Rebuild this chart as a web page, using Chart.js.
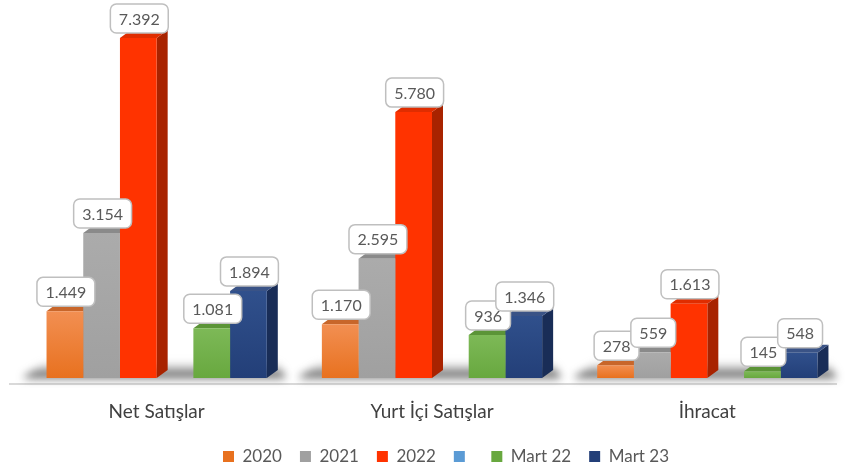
<!DOCTYPE html>
<html>
<head>
<meta charset="utf-8">
<script src="https://cdn.jsdelivr.net/npm/chart.js@4/dist/chart.umd.min.js"></script>
<style>
  html, body { margin: 0; padding: 0; background: #fff; }
  #wrap { width: 847px; height: 475px; }
</style>
</head>
<body>
<div id="wrap"><canvas id="c"></canvas></div>
<script>
// data
const categories = ["Net Satışlar", "Yurt İçi Satışlar", "İhracat"];
const seriesNames = ["2020", "2021", "2022", "", "Mart 22", "Mart 23"];
const v2020 = [1449, 1170, 278];
const v2021 = [3154, 2595, 559];
const v2022 = [7392, 5780, 1613];
const vBlank = [null, null, null];
const vMart22 = [1081, 936, 145];
const vMart23 = [1894, 1346, 548];
const allValues = [v2020, v2021, v2022, vBlank, vMart22, vMart23];

// colours: front (light top / dark bottom), top face, side face
const frontLight = ["#F28F52", "#ABABAB", "#FF3300", "#5B9BD5", "#7DB957", "#30508C"];
const frontDark = ["#E8711F", "#A0A0A0", "#FF3300", "#5B9BD5", "#68A83F", "#233F78"];
const topColors = ["#C8662A", "#8A8A8A", "#E02D00", "#4A86BE", "#5B9437", "#3A5386"];
const sideColors = ["#B35A20", "#7C7C7C", "#A82300", "#3E72A3", "#4C7C2D", "#192D57"];

const DX = 11, DY = -8;
const BASE_Y = 378;
const LEGEND_SHIFT = 14;

function fmt(v) {
  return String(v).replace(/\B(?=(\d{3})+(?!\d))/g, ".");
}

function frontFill(i) {
  return function (ctx) {
    const ch = ctx.chart;
    if (ctx.type !== "data" || !ch.chartArea || ctx.raw == null) return frontDark[i];
    const ys = ch.scales.y;
    const top = ys.getPixelForValue(ctx.raw);
    const bot = ys.getPixelForValue(0);
    if (!isFinite(top) || !isFinite(bot) || top === bot) return frontDark[i];
    const g = ch.ctx.createLinearGradient(0, top, 0, bot);
    g.addColorStop(0, frontLight[i]);
    g.addColorStop(1, frontDark[i]);
    return g;
  };
}

// 3d faces, floor shadow and axis line, drawn behind the bar fronts
const depthPlugin = {
  id: "depth",
  afterLayout(chart) {
    // legend sits a little right of centre
    chart.legend.left += LEGEND_SHIFT;
    chart.legend.right += LEGEND_SHIFT;
  },
  beforeDatasetsDraw(chart) {
    const c = chart.ctx;
    const base = chart.scales.y.getPixelForValue(0);
    const first = chart.getDatasetMeta(0).data;
    const last = chart.getDatasetMeta(5).data;

    // axis line
    c.save();
    c.strokeStyle = "#D9D9D9";
    c.lineWidth = 2;
    c.beginPath();
    c.moveTo(9, base + 6);
    c.lineTo(837, base + 6);
    c.stroke();
    c.restore();

    // floor shadow under each group
    categories.forEach((cat, j) => {
      const L = first[j].x - first[j].width / 2;
      const R = last[j].x + last[j].width / 2 + DX;
      c.save();
      c.filter = "blur(4px)";
      const g = c.createLinearGradient(0, base - 15, 0, base);
      g.addColorStop(0, "rgba(150,150,150,0.1)");
      g.addColorStop(1, "rgba(40,40,40,0.95)");
      c.fillStyle = g;
      c.beginPath();
      c.moveTo(L - 24, base);
      c.lineTo(L - 2, base - 15);
      c.lineTo(R, base - 15);
      c.lineTo(R + 8, base);
      c.closePath();
      c.fill();
      c.restore();
    });

    // side faces
    chart.data.datasets.forEach((ds, i) => {
      chart.getDatasetMeta(i).data.forEach((bar, j) => {
        if (ds.data[j] == null) return;
        const xr = bar.x + bar.width / 2;
        c.fillStyle = sideColors[i];
        c.beginPath();
        c.moveTo(xr, bar.y);
        c.lineTo(xr + DX, bar.y + DY);
        c.lineTo(xr + DX, bar.base + DY);
        c.lineTo(xr, bar.base);
        c.closePath();
        c.fill();
      });
    });
    // top faces
    chart.data.datasets.forEach((ds, i) => {
      chart.getDatasetMeta(i).data.forEach((bar, j) => {
        if (ds.data[j] == null) return;
        const xl = bar.x - bar.width / 2;
        const xr = bar.x + bar.width / 2;
        c.fillStyle = topColors[i];
        c.beginPath();
        c.moveTo(xl, bar.y);
        c.lineTo(xl + DX, bar.y + DY);
        c.lineTo(xr + DX, bar.y + DY);
        c.lineTo(xr, bar.y);
        c.closePath();
        c.fill();
      });
    });
  },
  // value boxes
  afterDatasetsDraw(chart) {
    const c = chart.ctx;
    c.save();
    c.font = "16px Lato";
    c.textAlign = "center";
    c.textBaseline = "middle";
    chart.data.datasets.forEach((ds, i) => {
      chart.getDatasetMeta(i).data.forEach((bar, j) => {
        const v = ds.data[j];
        if (v == null) return;
        const t = fmt(v);
        const w = c.measureText(t).width + 17;
        const h = 29;
        const x = bar.x + 1 - w / 2;
        const y = bar.y - 5 - h;
        c.beginPath();
        c.roundRect(x, y, w, h, 6);
        c.fillStyle = "#FFFFFF";
        c.fill();
        c.strokeStyle = "#BFBFBF";
        c.lineWidth = 1.5;
        c.stroke();
        c.fillStyle = "#595959";
        c.fillText(t, bar.x + 1, y + h / 2 + 1);
      });
    });
    c.restore();
  }
};

const datasets = allValues.map((vals, i) => ({
  label: seriesNames[i],
  data: vals,
  backgroundColor: frontFill(i),
  borderWidth: 0,
  categoryPercentage: 0.8,
  barPercentage: 1.0
}));

new Chart(document.getElementById("c"), {
  type: "bar",
  data: { labels: categories, datasets: datasets },
  plugins: [depthPlugin],
  options: {
    responsive: true,
    maintainAspectRatio: false,
    animation: false,
    layout: { padding: { left: 19, right: 2, top: 10, bottom: 0 } },
    scales: {
      x: {
        grid: { display: false, drawTicks: false },
        border: { display: false },
        ticks: { color: "#404040", font: { family: "Lato", size: 19 }, padding: 22 },
        afterFit(axis) {
          const lh = axis.chart.legend ? axis.chart.legend.height : 45;
          axis.height = 475 - lh - BASE_Y;
        }
      },
      y: { display: false, min: 0, max: 8000 }
    },
    plugins: {
      tooltip: { enabled: false },
      legend: {
        position: "bottom",
        labels: {
          color: "#595959",
          font: { family: "Lato", size: 17 },
          boxWidth: 11,
          boxHeight: 11,
          padding: 18,
          generateLabels: () => seriesNames.map((n, i) => ({
            text: n,
            fillStyle: frontDark[i],
            strokeStyle: frontDark[i],
            lineWidth: 0,
            hidden: false,
            datasetIndex: i,
            fontColor: "#595959"
          }))
        }
      }
    }
  }
});
</script>
</body>
</html>
